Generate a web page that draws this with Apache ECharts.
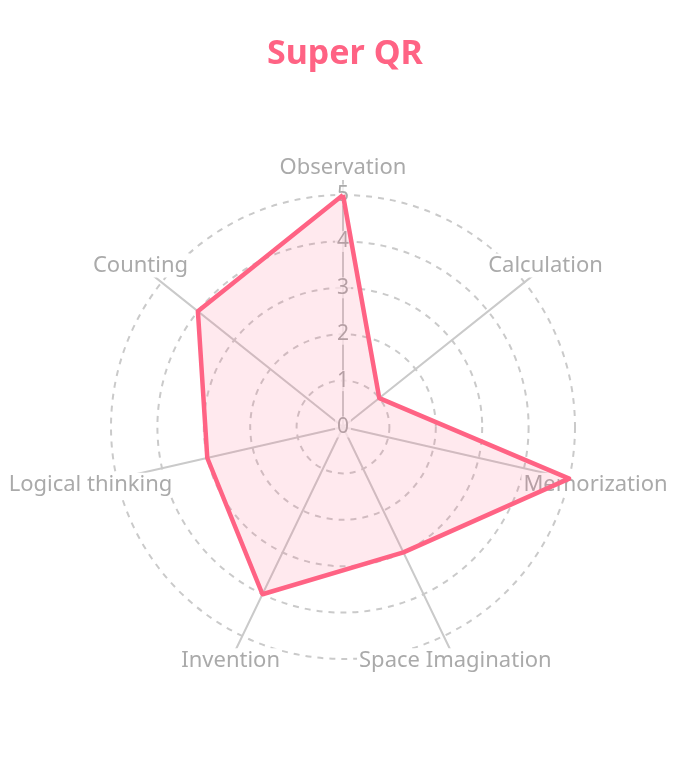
<!DOCTYPE html>
<html>
<head>
<meta charset="utf-8">
<script src="https://cdn.jsdelivr.net/npm/echarts@6/dist/echarts.min.js"></script>
<style>
  html, body { margin: 0; padding: 0; background: #fff; }
  #chart { width: 695px; height: 757px; }
</style>
</head>
<body>
<div id="chart"></div>
<script>
// indicators, clockwise from the top (as in the picture)
const skills = ['Observation', 'Calculation', 'Memorization', 'Space Imagination', 'Invention', 'Logical thinking', 'Counting']
const scores = [5, 1, 5, 3, 4, 3, 4]
const tickLabels = [0, 1, 2, 3, 4, 5]
const maxScore = 5

const pink = 'rgb(255, 99, 132)'
const gray = '#cacaca'
const center = [343, 427]

// echarts lays radar axes out counter-clockwise, so flip the order after the first one
const order = [0, ...skills.map((_, i) => i).slice(1).reverse()]
const indicators = order.map(i => ({ name: skills[i], min: 0, max: maxScore }))
const values = order.map(i => scores[i])

const chart = echarts.init(document.getElementById('chart'))
chart.setOption({
  animation: false,
  title: {
    text: 'Super QR',
    left: 262,
    top: 32,
    textStyle: { color: pink, fontSize: 34, fontWeight: 'bold', fontFamily: 'Noto Sans' }
  },
  radar: [
    {
      // long spokes + names
      center: center,
      radius: 252,
      indicator: indicators,
      shape: 'circle',
      splitNumber: 5,
      nameGap: 7,
      axisName: {
        color: '#aaaaaa',
        fontSize: 22,
        fontFamily: 'Noto Sans',
        align: 'center',
        verticalAlign: 'middle',
        backgroundColor: '#fff',
        padding: [1, 2]
      },
      axisLine: { lineStyle: { color: gray, width: 2 } },
      splitLine: { show: false },
      splitArea: { show: false },
      axisTick: { show: false },
      axisLabel: { show: false }
    },
    {
      // dashed rings, holds the data
      center: center,
      radius: 232,
      indicator: indicators,
      shape: 'circle',
      splitNumber: 5,
      axisName: { show: false },
      axisLine: { show: false },
      splitLine: { lineStyle: { color: gray, width: 2, type: [6, 6] } },
      splitArea: { show: false },
      axisTick: { show: false },
      axisLabel: { show: false }
    }
  ],
  // only used for the 0..5 labels on the top spoke
  polar: { center: center, radius: 232 },
  angleAxis: { show: false, startAngle: 90, min: 0, max: 360 },
  radiusAxis: {
    min: 0,
    max: maxScore,
    interval: 1,
    axisLine: { show: false },
    axisTick: { show: false },
    splitLine: { show: false },
    axisLabel: {
      margin: 0,
      align: 'center',
      verticalAlign: 'middle',
      color: '#aaaaaa',
      fontSize: 21,
      fontFamily: 'Noto Sans',
      backgroundColor: 'rgba(255,255,255,0.75)',
      padding: [0, 2],
      formatter: v => (tickLabels.includes(v) ? String(v) : '')
    }
  },
  series: [
    {
      type: 'radar',
      radarIndex: 1,
      symbol: 'none',
      lineStyle: { color: pink, width: 4.5 },
      areaStyle: { color: 'rgba(255, 99, 132, 0.2)' },
      data: [{ value: values, name: 'Super QR' }]
    }
  ]
})
</script>
</body>
</html>
